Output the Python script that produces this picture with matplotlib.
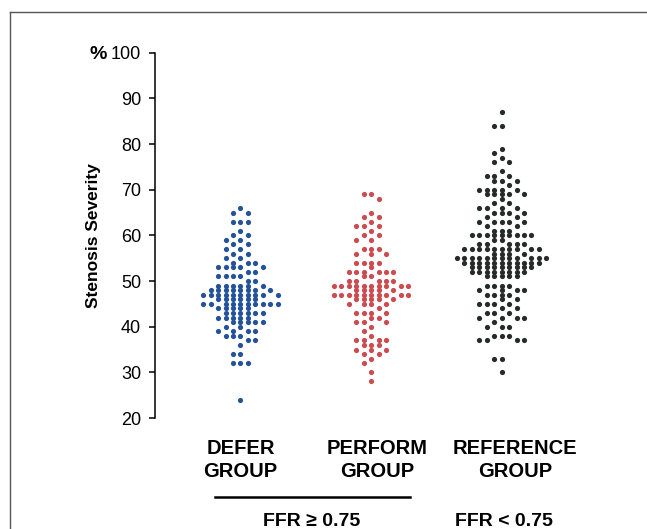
import numpy as np
import matplotlib
matplotlib.use("Agg")
import matplotlib.pyplot as plt
from matplotlib.lines import Line2D

plt.rcParams['font.family'] = ['Liberation Sans', 'DejaVu Sans']

# stenosis severity (%) and number of patients at each value
defer_values = [66, 65, 63, 61, 60, 59, 58, 57, 56, 55, 54, 53, 52, 51, 50, 49, 48, 47, 46, 45,
                44, 43, 42, 41, 40, 39, 38, 37, 36, 34, 32, 24]
defer_counts = [1, 2, 3, 1, 2, 2, 2, 2, 2, 2, 3, 5, 2, 4, 2, 6, 8, 10, 6, 10,
                5, 6, 5, 5, 2, 4, 3, 2, 1, 2, 3, 1]

perform_values = [69, 68, 65, 64, 63, 62, 61, 60, 59, 57, 56, 54, 53, 52, 51, 50, 49, 48, 47, 46,
                  45, 44, 43, 42, 41, 40, 39, 38, 37, 36, 35, 34, 33, 32, 30, 28]
perform_counts = [2, 1, 1, 2, 1, 3, 1, 2, 2, 3, 3, 4, 1, 6, 2, 5, 10, 5, 10, 5,
                  4, 1, 4, 2, 3, 1, 1, 1, 4, 3, 3, 2, 1, 1, 1, 1]

reference_values = [87, 84, 79, 78, 77, 76, 74, 73, 72, 71, 70, 69, 68, 67, 66, 65, 64, 63, 62, 61,
                    60, 59, 58, 57, 56, 55, 54, 53, 52, 51, 49, 48, 47, 46, 45, 44, 43, 42, 41, 40,
                    38, 37, 33, 30]
reference_counts = [1, 2, 1, 1, 1, 2, 1, 3, 3, 1, 5, 5, 1, 2, 4, 4, 2, 5, 2, 3,
                    9, 2, 5, 10, 4, 12, 11, 9, 8, 5, 4, 4, 4, 2, 4, 2, 3, 4, 1, 3,
                    3, 4, 2, 1]

group_labels = ["DEFER\nGROUP", "PERFORM\nGROUP", "REFERENCE\nGROUP"]
group_colors = ["#23529a", "#cc4b4e", "#252b29"]
y_ticks = [20, 30, 40, 50, 60, 70, 80, 90, 100]


def swarm_columns(values, counts):
    """Put the dots of each row on a column grid, avoiding the row above where possible."""
    prev = set()
    last_v = None
    xs, ys = [], []
    for v, n in sorted(zip(values, counts), reverse=True):
        if last_v is not None and last_v - v > 1:
            prev = set()
        r = (n + 2) // 2 if n < 6 else n // 2
        cand = sorted(range(-r - 3, r + 4), key=lambda c: (abs(c), c))
        chosen = [c for c in cand if abs(c) <= r and c not in prev][:n]
        for c in cand:
            if len(chosen) >= n:
                break
            if c not in chosen:
                chosen.append(c)
        prev = set(chosen)
        last_v = v
        xs.extend(chosen)
        ys.extend([v] * n)
    return np.array(xs), np.array(ys)


fig = plt.figure(figsize=(6.47, 5.29), dpi=100)
ax = fig.add_axes([0.2396, 0.2098, 0.66, 0.6906])

groups = [(defer_values, defer_counts), (perform_values, perform_counts),
          (reference_values, reference_counts)]
dx = 0.057
for i, (vals, cnts) in enumerate(groups):
    cols, ys = swarm_columns(vals, cnts)
    ax.scatter(i + 1 + cols * dx, ys, s=14, color=group_colors[i], linewidths=0, zorder=3)

ax.set_xlim(0.346, 3.615)
ax.set_ylim(20, 100)
ax.set_yticks(y_ticks)
ax.tick_params(axis='y', direction='out', length=4, width=1.1, labelsize=13, pad=6)
ax.set_xticks([])
for s in ['top', 'right', 'bottom']:
    ax.spines[s].set_visible(False)
ax.spines['left'].set_linewidth(1.1)
ax.set_ylabel("Stenosis Severity", fontsize=12.5, fontweight='bold', labelpad=7)
ax.text(-0.112, 0.995, "%", transform=ax.transAxes, fontsize=14, fontweight='bold',
        ha='right', va='center')

# group names under the swarms
label_x = [1.0, 2.05, 3.1]
for lx, lab in zip(label_x, group_labels):
    ax.text(lx, -0.058, lab, transform=ax.get_xaxis_transform(), ha='center', va='top',
            fontsize=14.5, fontweight='bold', linespacing=1.22, clip_on=False)

# bracket line and FFR captions
fig.add_artist(Line2D([215 / 647, 410 / 647], [1 - 497 / 529] * 2, color='black', lw=1.8))
fig.text(312 / 647, 1 - 521 / 529, "FFR \u2265 0.75", ha='center', va='center',
         fontsize=14, fontweight='bold')
fig.text(504 / 647, 1 - 521 / 529, "FFR < 0.75", ha='center', va='center',
         fontsize=14, fontweight='bold')

# frame around the figure panel
fig.add_artist(Line2D([10 / 647, 1.0], [1 - 12 / 529] * 2, color='#555555', lw=1.0))
fig.add_artist(Line2D([10 / 647] * 2, [0.0, 1 - 12 / 529], color='#555555', lw=1.0))

fig.savefig("out.png", dpi=100)
